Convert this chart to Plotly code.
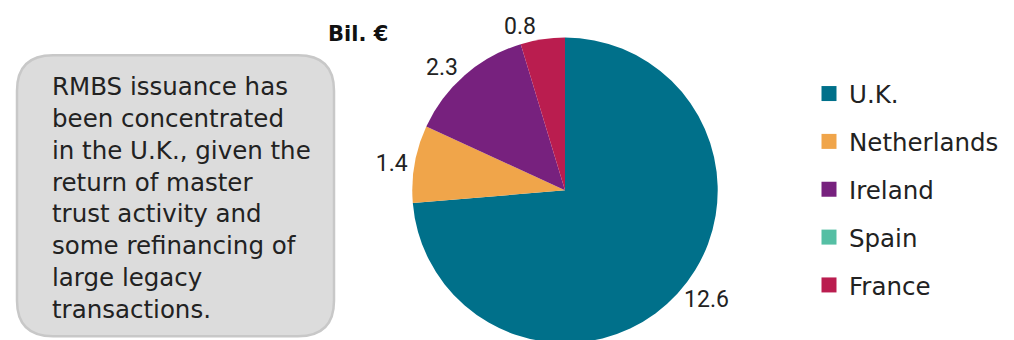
import plotly.graph_objects as go

categories = ["U.K.", "Netherlands", "Ireland", "Spain", "France"]
values = [12.6, 1.4, 2.3, 0.0, 0.8]
colors = ["#00708A", "#F0A54A", "#77217E", "#55BFA4", "#BA1D4F"]
note_lines = ["RMBS issuance has", "been concentrated", "in the U.K., given the",
              "return of master", "trust activity and", "some refinancing of",
              "large legacy", "transactions."]
unit_label = "Bil. €"

W, H = 1014, 340
OFF = 8  # page body margin
FONT = "DejaVu Sans"
LABEL_FONT = "Roboto"

fig = go.Figure()

cx, cy, r = 565 - OFF, 189 - OFF, 155

def px(x):
    return x / W

def py(y):
    return 1 - y / H

fig.add_trace(go.Pie(
    labels=categories, values=values,
    marker=dict(colors=colors, line=dict(width=0)),
    sort=False, direction="clockwise", rotation=0,
    textinfo="value",
    texttemplate=["%{value:.1f}" if v > 0 else "" for v in values],
    textposition="outside",
    outsidetextfont=dict(family=LABEL_FONT, size=23, color="#222222"),
    domain=dict(x=[px(cx - r), px(cx + r)], y=[max(0, py(cy + r)), py(cy - r)]),
    showlegend=False, hoverinfo="label+value",
))

# legend entries (one group each so gaps can be set)
for name, col in zip(categories, colors):
    fig.add_trace(go.Scatter(
        x=[None], y=[None], mode="markers", name=name,
        marker=dict(symbol="square", size=15, color=col),
        legendgroup=name, showlegend=True,
    ))

x0, x1, y0, y1, rad = 17 - OFF, 334 - OFF, 52 - OFF, 337 - OFF, 36
path = (f"M {px(x0+rad)},{py(y0)} L {px(x1-rad)},{py(y0)} "
        f"Q {px(x1)},{py(y0)} {px(x1)},{py(y0+rad)} L {px(x1)},{py(y1-rad)} "
        f"Q {px(x1)},{py(y1)} {px(x1-rad)},{py(y1)} L {px(x0+rad)},{py(y1)} "
        f"Q {px(x0)},{py(y1)} {px(x0)},{py(y1-rad)} L {px(x0)},{py(y0+rad)} "
        f"Q {px(x0)},{py(y0)} {px(x0+rad)},{py(y0)} Z")

fig.update_layout(
    width=W, height=H,
    margin=dict(l=0, r=0, t=0, b=0),
    paper_bgcolor="white", plot_bgcolor="white",
    font=dict(family=FONT, color="#222222"),
    xaxis=dict(visible=False), yaxis=dict(visible=False),
    shapes=[dict(type="path", path=path, xref="paper", yref="paper",
                 fillcolor="#DCDCDC", line=dict(color="#C8C8C8", width=2.5),
                 layer="below")],
    annotations=[
        dict(text="<br>".join(note_lines), x=px(50 - OFF), y=py(67 - OFF), xref="paper", yref="paper",
             xanchor="left", yanchor="top", align="left", showarrow=False,
             font=dict(family=FONT, size=24.5, color="#222222")),
        dict(text=f"<b>{unit_label}</b>", x=px(326 - OFF), y=py(30 - OFF), xref="paper", yref="paper",
             xanchor="left", yanchor="middle", showarrow=False,
             font=dict(family=FONT, size=21, color="#111111")),
    ],
    legend=dict(x=px(809 - OFF), y=py(68 - OFF), xanchor="left", yanchor="top",
                font=dict(family=FONT, size=24.5, color="#222222"),
                tracegroupgap=13, bgcolor="rgba(0,0,0,0)"),
)

fig.write_html("out.html")
